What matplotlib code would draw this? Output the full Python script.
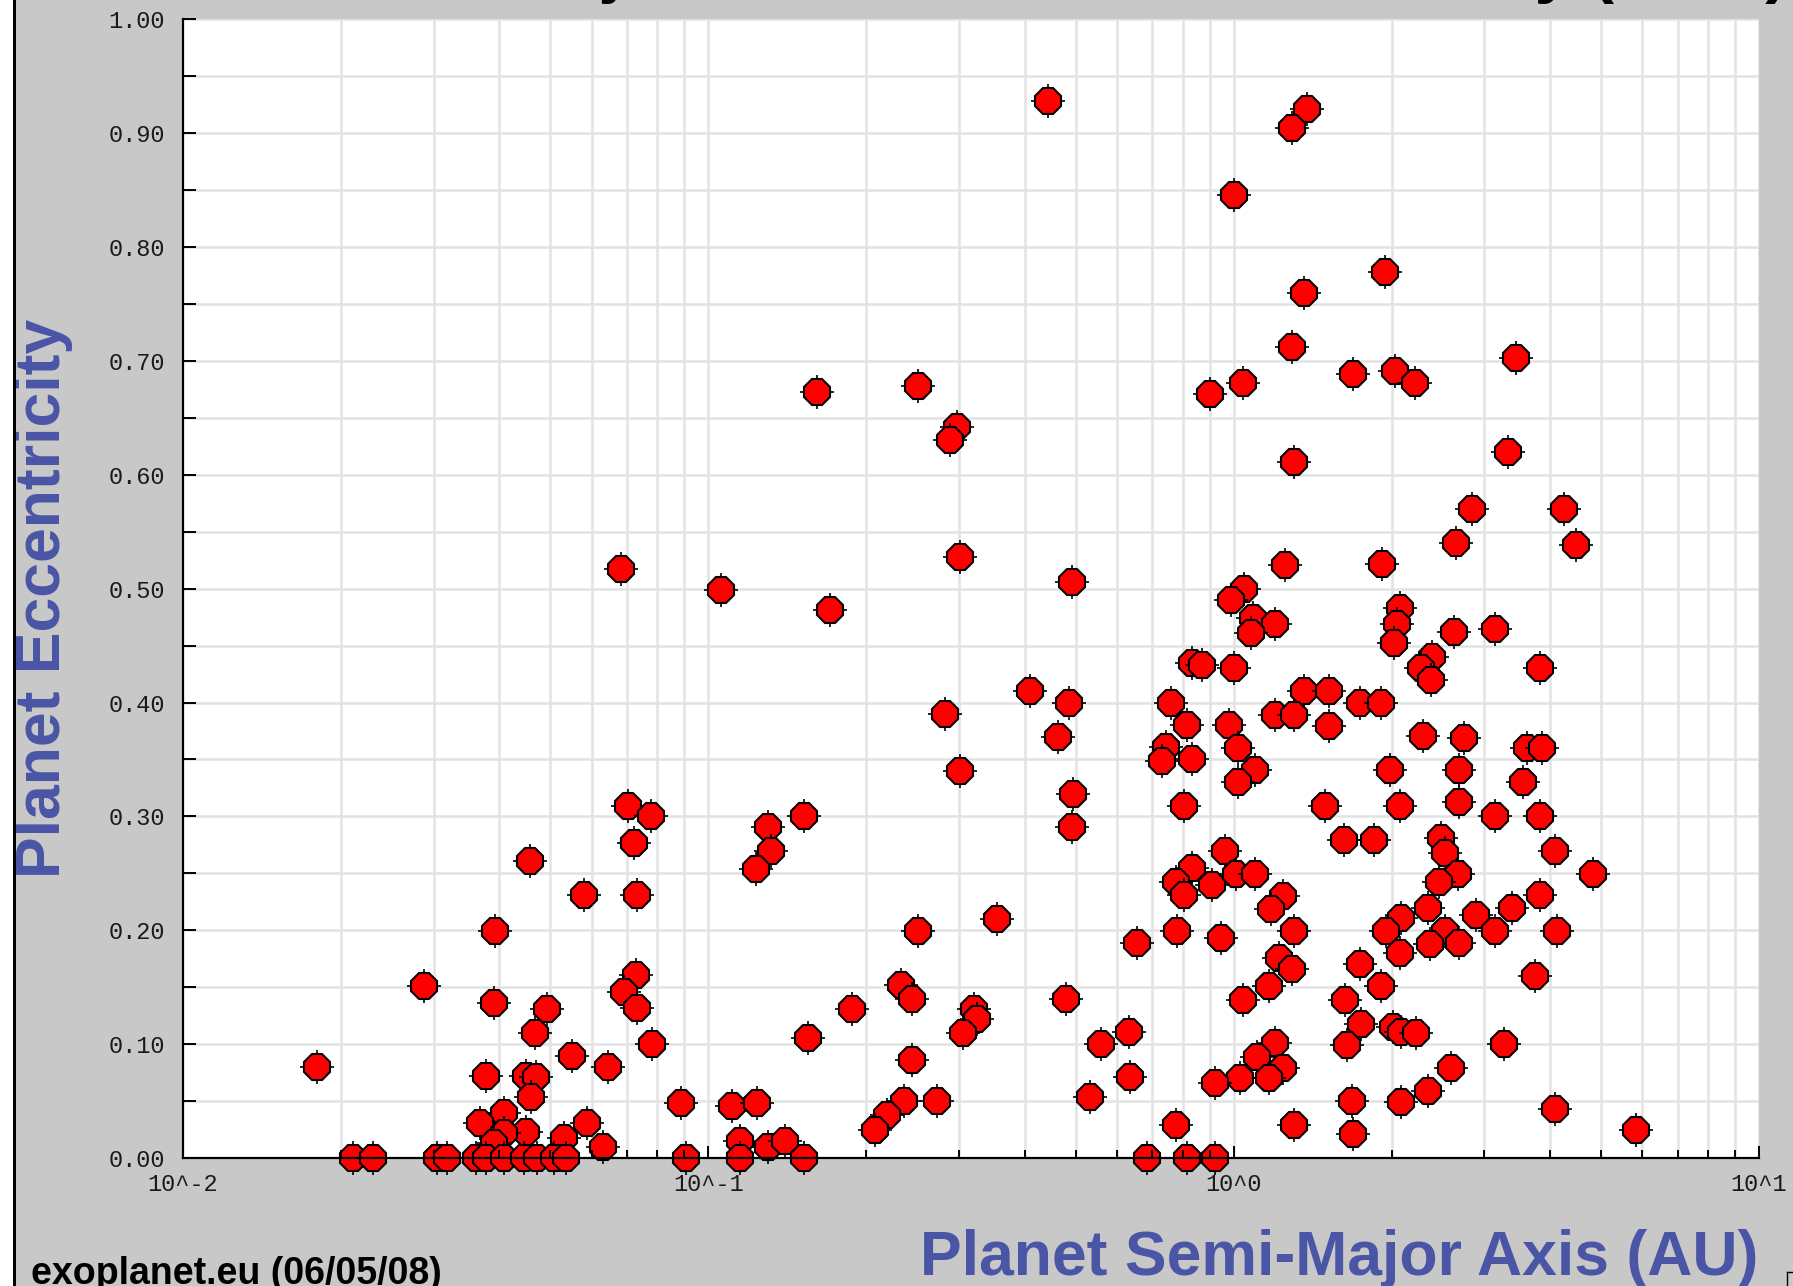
import numpy as np
import matplotlib
matplotlib.use("Agg")
import matplotlib.pyplot as plt
from matplotlib.ticker import FixedLocator, FixedFormatter, LogLocator, NullFormatter, MultipleLocator
from matplotlib.lines import Line2D
from matplotlib.patches import Rectangle

# ---- data: semi-major axis (AU) and eccentricity, grouped by region of the plane ----
high_ecc_a = [0.443, 1.38, 1.29, 1.00, 1.94, 1.36, 1.29, 3.44, 1.69, 2.03,
              2.21, 1.04, 0.90, 0.161, 0.251, 0.298, 0.288, 1.30, 3.33, 2.84,
              4.25, 4.49, 2.65, 0.0683, 0.1055, 0.302, 0.492, 0.1706]
high_ecc_e = [0.928, 0.921, 0.905, 0.846, 0.778, 0.760, 0.712, 0.703, 0.689, 0.691,
              0.681, 0.681, 0.671, 0.673, 0.678, 0.642, 0.631, 0.611, 0.620, 0.570,
              0.570, 0.538, 0.540, 0.517, 0.499, 0.528, 0.506, 0.481]

outer_a = [1.25, 1.92, 1.045, 0.99, 1.09, 1.20, 1.08, 2.07, 2.05, 2.02,
           2.63, 3.15, 2.39, 2.27, 2.37, 3.83, 0.834, 0.871, 1.00, 1.36,
           1.52, 1.74, 1.91, 1.20, 1.30, 1.52, 0.759, 0.816, 0.98, 0.743,
           0.73, 0.834, 1.02, 1.10, 1.02, 2.29, 2.74, 3.62, 3.86, 1.98,
           2.69, 3.56, 2.69, 0.804, 1.49, 2.07, 3.15, 3.83, 1.62, 1.85,
           2.48, 2.53, 4.09, 0.964, 0.834, 0.776, 0.804, 0.91, 1.01, 1.10,
           2.67, 2.46, 1.24, 1.18, 1.30, 1.22, 1.29, 1.17, 1.04, 0.78,
           0.944, 0.656, 3.83, 3.39, 2.89, 2.34, 2.08, 1.95, 2.53, 2.36,
           2.69, 3.15, 4.12, 2.07, 1.74, 1.91, 3.75, 1.63, 1.75, 1.64,
           2.01, 2.08, 2.22, 3.27, 1.20, 1.11, 1.24, 1.17, 1.03, 0.923,
           2.59, 2.34, 2.08, 1.68, 1.69, 1.30, 4.09, 0.776, 0.685, 0.815, 0.92]
outer_e = [0.521, 0.522, 0.500, 0.490, 0.474, 0.469, 0.461, 0.483, 0.469, 0.452,
           0.462, 0.465, 0.440, 0.430, 0.420, 0.430, 0.435, 0.433, 0.430, 0.410,
           0.410, 0.400, 0.400, 0.389, 0.389, 0.379, 0.400, 0.380, 0.380, 0.361,
           0.349, 0.350, 0.360, 0.341, 0.330, 0.371, 0.369, 0.360, 0.360, 0.341,
           0.341, 0.330, 0.313, 0.309, 0.309, 0.309, 0.300, 0.300, 0.279, 0.279,
           0.281, 0.268, 0.270, 0.270, 0.255, 0.242, 0.231, 0.240, 0.249, 0.249,
           0.249, 0.242, 0.230, 0.219, 0.199, 0.176, 0.166, 0.151, 0.139, 0.199,
           0.193, 0.189, 0.231, 0.220, 0.213, 0.220, 0.211, 0.199, 0.199, 0.188,
           0.189, 0.199, 0.199, 0.180, 0.170, 0.151, 0.160, 0.139, 0.118, 0.099,
           0.115, 0.111, 0.110, 0.100, 0.101, 0.089, 0.079, 0.070, 0.070, 0.066,
           0.079, 0.059, 0.049, 0.050, 0.021, 0.029, 0.043, 0.029, 0.0, 0.0, 0.0]

middle_a = [0.41, 0.486, 0.282, 0.463, 0.302, 0.494, 0.0703, 0.0777, 0.152, 0.492,
            0.1297, 0.0721, 0.1315, 0.1233, 0.0457, 0.0581, 0.0731, 0.355, 0.251, 0.0393,
            0.233, 0.244, 0.48, 0.188, 0.321, 0.324, 0.305, 0.631, 0.155, 0.56,
            0.244, 0.018, 0.635, 0.533, 0.236, 0.272, 0.0889, 0.1109, 0.1239, 0.219,
            0.208, 0.115, 0.130, 0.1397, 0.0908, 0.115, 0.152, 0.0211, 0.023, 5.82, 4.83]
middle_e = [0.41, 0.40, 0.39, 0.37, 0.34, 0.32, 0.309, 0.30, 0.30, 0.291,
            0.291, 0.277, 0.27, 0.254, 0.261, 0.231, 0.231, 0.21, 0.199, 0.199,
            0.152, 0.14, 0.14, 0.131, 0.131, 0.122, 0.11, 0.111, 0.105, 0.10,
            0.086, 0.08, 0.071, 0.054, 0.05, 0.05, 0.048, 0.046, 0.048, 0.038,
            0.025, 0.015, 0.010, 0.015, 0.0, 0.0, 0.0, 0.0, 0.0, 0.025, 0.249]

hot_a = [0.0288, 0.0391, 0.0492, 0.0468, 0.0728, 0.0692, 0.0731, 0.0782, 0.0551, 0.0645,
         0.0377, 0.0449, 0.047, 0.0459, 0.0409, 0.0367, 0.0449, 0.0409, 0.0391, 0.0531,
         0.0587, 0.0631, 0.0304, 0.0318, 0.0361, 0.0378, 0.0409, 0.0446, 0.0472, 0.0508, 0.0536]
hot_e = [0.151, 0.136, 0.131, 0.110, 0.161, 0.146, 0.132, 0.100, 0.090, 0.080,
         0.072, 0.072, 0.071, 0.054, 0.0395, 0.031, 0.023, 0.022, 0.013, 0.0176,
         0.031, 0.010, 0.0, 0.0, 0.0, 0.0, 0.0, 0.0, 0.0, 0.0, 0.0]

x_tick_values = [0.01, 0.1, 1.0, 10.0]
x_tick_labels = ["10^-2", "10^-1", "10^0", "10^1"]
y_tick_values = [0.0, 0.1, 0.2, 0.3, 0.4, 0.5, 0.6, 0.7, 0.8, 0.9, 1.0]
y_tick_labels = ["0.00", "0.10", "0.20", "0.30", "0.40", "0.50",
                 "0.60", "0.70", "0.80", "0.90", "1.00"]

semi_major_axis = high_ecc_a + outer_a + middle_a + hot_a
eccentricity = high_ecc_e + outer_e + middle_e + hot_e
assert len(semi_major_axis) == len(eccentricity)

# ---- figure ----
W, H = 1793, 1286
fig = plt.figure(figsize=(W / 100, H / 100), dpi=100, facecolor="#c8c8c8")

# white margin and black frame line along the left edge
fig.add_artist(Rectangle((0, 0), 13 / W, 1, transform=fig.transFigure,
                         facecolor="white", edgecolor="none", zorder=0))
fig.add_artist(Rectangle((13 / W, 0), 3 / W, 1, transform=fig.transFigure,
                         facecolor="black", edgecolor="none", zorder=20))

left, right, top, bottom = 183, 1759, 19.4, 1158
ax = fig.add_axes([left / W, 1 - bottom / H, (right - left) / W, (bottom - top) / H])
ax.set_facecolor("white")
ax.set_xscale("log")
ax.set_xlim(0.01, 10)
ax.set_ylim(0, 1)

ax.xaxis.set_major_locator(FixedLocator(x_tick_values))
ax.xaxis.set_major_formatter(FixedFormatter(x_tick_labels))
ax.xaxis.set_minor_locator(LogLocator(base=10, subs=np.arange(2, 10)))
ax.xaxis.set_minor_formatter(NullFormatter())
ax.yaxis.set_major_locator(FixedLocator(y_tick_values))
ax.yaxis.set_major_formatter(FixedFormatter(y_tick_labels))
ax.yaxis.set_minor_locator(MultipleLocator(0.05))

for s in ("top", "right"):
    ax.spines[s].set_visible(False)
for s in ("left", "bottom"):
    ax.spines[s].set_linewidth(1.6)
    ax.spines[s].set_color("black")
    ax.spines[s].set_zorder(5)

tick_font = dict(family="Liberation Mono", size=17)
ax.tick_params(axis="both", which="both", direction="in", color="black", width=1.4,
               labelcolor="#1a1a1a")
ax.tick_params(axis="x", which="major", length=9, pad=11)
ax.tick_params(axis="x", which="minor", length=6)
ax.tick_params(axis="y", which="both", length=9, pad=13)
for lab in ax.get_xticklabels() + ax.get_yticklabels():
    lab.set_fontfamily(tick_font["family"])
    lab.set_fontsize(tick_font["size"])
ax.xaxis.set_zorder(4)
ax.yaxis.set_zorder(4)

# light grid under the markers, at every major and minor tick
grid_kw = dict(color="#e2e2e2", lw=1.8, zorder=0.6)
xlo, xhi = ax.get_xlim()
for xv in list(ax.xaxis.get_majorticklocs()) + list(ax.xaxis.get_minorticklocs()):
    if xlo < xv <= xhi:
        ax.axvline(xv, **grid_kw)
for yv in list(ax.yaxis.get_majorticklocs()) + list(ax.yaxis.get_minorticklocs()):
    if 0 < yv <= 1.0001:
        ax.axhline(yv, **grid_kw)

# octagonal markers with small cross ticks, drawn point by point
for i, (a, e) in enumerate(zip(semi_major_axis, eccentricity)):
    z = 1.0 + i * 0.002
    ax.plot([a], [e], ls="none", marker="+", ms=24, mew=1.2, color="black",
            zorder=z, clip_on=False)
    ax.plot([a], [e], ls="none", marker="8", ms=20.5, mfc="#ff0000", mec="black",
            mew=1.5, zorder=z + 0.001, clip_on=False)

label_blue = "#4a55a6"
fig.text(60 / W, 1 - 598 / H, "Planet Eccentricity", rotation=90, rotation_mode="anchor",
         ha="center", va="baseline", fontsize=45, fontweight="bold",
         family="Liberation Sans", color=label_blue)
fig.text(1758 / W, 1 - 1275 / H, "Planet Semi-Major Axis (AU)", ha="right", va="baseline",
         fontsize=45, fontweight="bold", family="Liberation Sans", color=label_blue)
fig.text(31 / W, 1 - 1284 / H, "exoplanet.eu (06/05/08)", ha="left", va="baseline",
         fontsize=27, fontweight="bold", family="Liberation Sans", color="black")
fig.text(100 / W, 1 + 10 / H, "Planet Semi-Major Axis vs Planet Eccentricity (2008)",
         ha="left", va="baseline", fontsize=49, fontweight="bold",
         family="Liberation Sans", color="black")

# small corner bracket at the lower right
fig.add_artist(Line2D([1787 / W, 1787 / W], [0, 14 / H], transform=fig.transFigure,
                      color="black", lw=1))
fig.add_artist(Line2D([1787 / W, 1793 / W], [14 / H, 14 / H], transform=fig.transFigure,
                      color="black", lw=1))

fig.savefig("out.png", dpi=100, facecolor=fig.get_facecolor())
